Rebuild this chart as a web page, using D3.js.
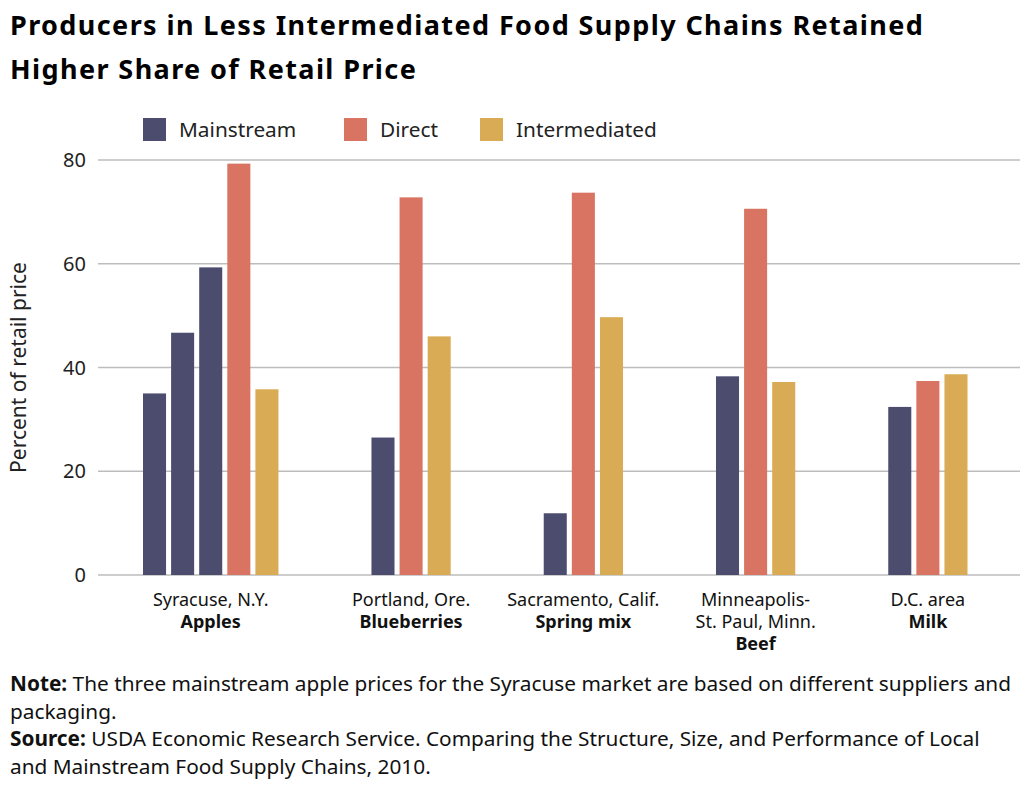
<!DOCTYPE html>
<html lang="en">
<head>
  <meta charset="UTF-8">
  <title>Producers in Less Intermediated Food Supply Chains</title>
  <script src="https://d3js.org/d3.v7.min.js"></script>
  <style>
    body {
      margin: 0;
      background: #fff;
      font-family: "Noto Sans", Roboto, sans-serif;
    }
    .grid line { stroke: #bdbdbd; stroke-width: 1.5px; }
    .tick-label { font-size: 20px; fill: #222; }
    .x-label { font-size: 18px; fill: #111; }
    .legend text { font-size: 20.8px; fill: #222; }
    .note { font-size: 20.8px; fill: #111; }
  </style>
</head>
<body>
  <div id="chart"></div>
  <script>
    // Data (percent of retail price)
    const markets = ["Syracuse, N.Y.", "Portland, Ore.", "Sacramento, Calif.", "Minneapolis-|St. Paul, Minn.", "D.C. area"];
    const products = ["Apples", "Blueberries", "Spring mix", "Beef", "Milk"];
    const mainstream = [[35.0, 46.7, 59.3], [26.5], [11.9], [38.3], [32.4]];
    const direct = [79.3, 72.8, 73.7, 70.6, 37.4];
    const intermediated = [35.8, 46.0, 49.7, 37.2, 38.7];
    const series = ["Mainstream", "Direct", "Intermediated"];
    const yTicks = [0, 20, 40, 60, 80];

    const colors = { Mainstream: "#4b4c6e", Direct: "#da7462", Intermediated: "#daab55" };

    const width = 1022, height = 785;
    const svg = d3.select("#chart").append("svg")
      .attr("width", width)
      .attr("height", height);

    // Flatten into bar slots, with extra space between markets
    const gapUnits = 3.13;
    const barFrac = 0.82;
    const bars = [];
    const groups = [];
    let u = 0;
    markets.forEach((m, i) => {
      const start = u;
      mainstream[i].forEach(v => bars.push({ series: "Mainstream", value: v, unit: u++ }));
      bars.push({ series: "Direct", value: direct[i], unit: u++ });
      bars.push({ series: "Intermediated", value: intermediated[i], unit: u++ });
      groups.push({ market: m, product: products[i], center: (start + u - 1 + barFrac) / 2 });
      u += gapUnits;
    });
    const lastEnd = u - gapUnits - 1 + barFrac;

    const x = d3.scaleLinear().domain([0, lastEnd]).range([143, 967.5]);
    const y = d3.scaleLinear().domain([0, 80]).range([575, 160]);

    // Gridlines + tick labels
    const grid = svg.append("g").attr("class", "grid");
    grid.selectAll("line").data(yTicks).join("line")
      .attr("x1", 98).attr("x2", 1020)
      .attr("y1", d => y(d)).attr("y2", d => y(d));
    svg.selectAll(".tick-label").data(yTicks).join("text")
      .attr("class", "tick-label")
      .attr("x", 86).attr("y", d => y(d))
      .attr("dy", "0.35em")
      .attr("text-anchor", "end")
      .text(d => d);

    svg.append("text")
      .attr("transform", `translate(26, ${y(40)}) rotate(-90)`)
      .attr("text-anchor", "middle")
      .style("font-size", "21px")
      .style("fill", "#222")
      .text("Percent of retail price");

    // Bars
    svg.append("g").selectAll("rect").data(bars).join("rect")
      .attr("x", d => x(d.unit))
      .attr("width", x(barFrac) - x(0))
      .attr("y", d => y(d.value))
      .attr("height", d => y(0) - y(d.value))
      .attr("fill", d => colors[d.series]);

    // Category labels (one text per line)
    const lineH = 22;
    groups.forEach(g => {
      const lines = g.market.split("|").map(t => ({ t, bold: false }));
      lines.push({ t: g.product, bold: true });
      svg.append("g").selectAll("text").data(lines).join("text")
        .attr("class", "x-label")
        .attr("text-anchor", "middle")
        .attr("x", x(g.center))
        .attr("y", (d, i) => 606 + i * lineH)
        .style("font-weight", d => d.bold ? "bold" : "normal")
        .text(d => d.t);
    });

    // Legend
    const legendX = [143, 344, 480];
    const lg = svg.append("g").attr("class", "legend").selectAll("g").data(series).join("g")
      .attr("transform", (d, i) => `translate(${legendX[i]}, 118)`);
    lg.append("rect").attr("width", 23).attr("height", 23).attr("fill", d => colors[d]);
    lg.append("text").attr("x", 36).attr("y", 19).text(d => d);

    // Title
    const title = svg.append("text")
      .style("font-size", "27px")
      .style("font-weight", "bold")
      .style("letter-spacing", "1.4px")
      .style("fill", "#000");
    ["Producers in Less Intermediated Food Supply Chains Retained", "Higher Share of Retail Price"]
      .forEach((l, i) => title.append("tspan").attr("x", 10).attr("y", 35 + i * 44).text(l));

    // Note and source
    const notes = [
      [["Note:", true], [" The three mainstream apple prices for the Syracuse market are based on different suppliers and", false]],
      [["packaging.", false]],
      [["Source:", true], [" USDA Economic Research Service. Comparing the Structure, Size, and Performance of Local", false]],
      [["and Mainstream Food Supply Chains, 2010.", false]]
    ];
    notes.forEach((parts, i) => {
      const t = svg.append("text").attr("class", "note").attr("x", 10).attr("y", 691 + i * 27.5);
      parts.forEach(p => t.append("tspan").style("font-weight", p[1] ? "bold" : "normal").text(p[0]));
    });
  </script>
</body>
</html>
